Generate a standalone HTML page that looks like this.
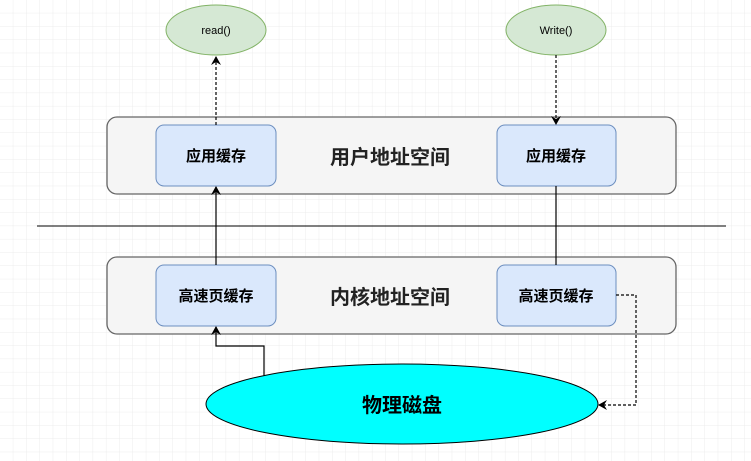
<!DOCTYPE html>
<html><head><meta charset="utf-8"><style>
body{margin:0;background:#fff}
svg{display:block}
text{font-family:"Liberation Sans","Noto Sans CJK SC",sans-serif}
</style></head><body>
<svg width="751" height="461" viewBox="0 0 751 461" xmlns="http://www.w3.org/2000/svg">
<defs>
<pattern id="g" width="13.3" height="13.3" patternUnits="userSpaceOnUse">
<path d="M13.3 0V13.3H0" fill="none" stroke="#ececec" stroke-width="1"/>
</pattern>
<marker id="a" markerWidth="10" markerHeight="10" refX="8" refY="5" orient="auto" markerUnits="userSpaceOnUse">
<path d="M0,0 L9,5 L0,10 L3,5 Z" fill="#000"/>
</marker>
</defs>
<rect width="751" height="461" fill="url(#g)"/>
<ellipse cx="216" cy="30" rx="50" ry="25" fill="#d5e8d4" stroke="#82b366"/>
<text x="216" y="34" font-size="11" text-anchor="middle">read()</text>
<ellipse cx="556" cy="30" rx="50" ry="25" fill="#d5e8d4" stroke="#82b366"/>
<text x="556" y="34" font-size="11" text-anchor="middle">Write()</text>
<rect x="107" y="117" width="569" height="77" rx="10" fill="#f5f5f5" stroke="#666" stroke-width="1.3"/>
<rect x="107" y="257" width="569" height="77" rx="10" fill="#f5f5f5" stroke="#666" stroke-width="1.3"/>
<line x1="37" y1="226" x2="726" y2="226" stroke="#000"/>
<g fill="#dae8fc" stroke="#6c8ebf">
<rect x="156" y="125" width="120" height="61" rx="8"/>
<rect x="497" y="125" width="119" height="61" rx="8"/>
<rect x="156" y="265" width="120" height="61" rx="8"/>
<rect x="497" y="265" width="119" height="61" rx="8"/>
</g>
<g font-size="15" font-weight="bold" text-anchor="middle">
<text x="216" y="161">应用缓存</text>
<text x="556" y="161">应用缓存</text>
<text x="216" y="301">高速页缓存</text>
<text x="556" y="301">高速页缓存</text>
</g>
<g font-size="20" font-weight="bold" text-anchor="middle" fill="#222">
<text x="390" y="164">用户地址空间</text>
<text x="390" y="304">内核地址空间</text>
</g>
<ellipse cx="402" cy="404" rx="196" ry="40" fill="#00ffff" stroke="#000"/>
<text x="402" y="412" font-size="20" font-weight="bold" text-anchor="middle">物理磁盘</text>
<g fill="none" stroke="#000" stroke-width="1.2">
<path d="M216 125V57" stroke-dasharray="3,2" marker-end="url(#a)"/>
<path d="M216 265V187" marker-end="url(#a)"/>
<path d="M556 55V124" stroke-dasharray="3,2" marker-end="url(#a)"/>
<path d="M556 186V265"/>
<path d="M264 376V346H216V327" marker-end="url(#a)"/>
<path d="M616 295H636V405H599" stroke-dasharray="3,2" marker-end="url(#a)"/>
</g>
</svg>
</body></html>
